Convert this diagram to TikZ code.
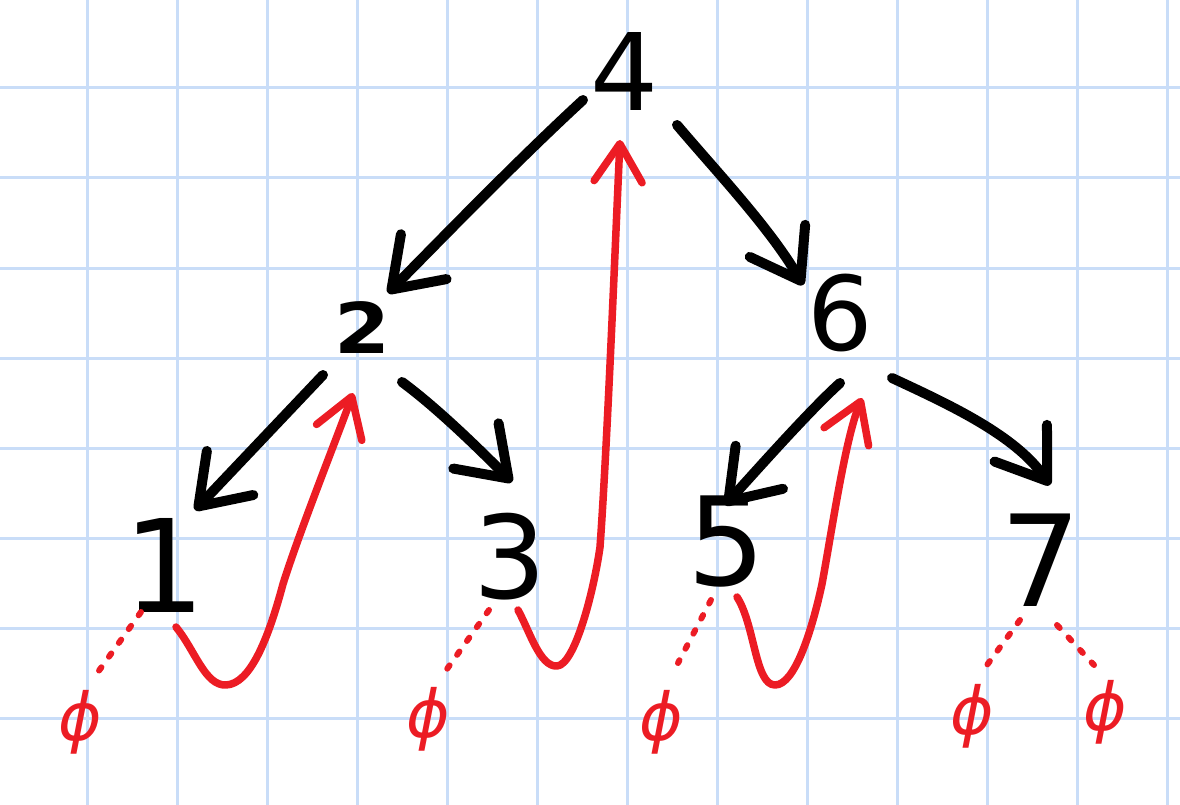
\documentclass[tikz,border=0pt]{standalone}
\usepackage{fontspec}
\setmainfont{DejaVu Sans}
\usetikzlibrary{arrows.meta}
\definecolor{gridblue}{RGB}{201,221,248}
\definecolor{inkred}{RGB}{236,28,36}
\tikzset{
  gridline/.style={draw=gridblue, line width=3pt},
  digit/.style={inner sep=0pt, text=black},
  phinode/.style={inner sep=0pt, text=inkred, font=\itshape\fontsize{66}{66}\selectfont},
  blk/.style={draw=black, line width=10pt, line cap=round, line join=round,
    -{Straight Barb[length=46pt,width=64pt,round]}},
  redarr/.style={draw=inkred, line width=7.5pt, line cap=round, line join=round,
    -{Straight Barb[length=38pt,width=48pt,round]}},
  nilline/.style={draw=inkred, line width=6pt, line cap=round, dash pattern=on 4pt off 13pt}
}
\begin{document}
\begin{tikzpicture}[x=1pt,y=-1pt]
\useasboundingbox (0,0) rectangle (1180,805);
\fill[white] (0,0) rectangle (1180,805);
\foreach \x in {87,177,...,1167} \draw[gridline] (\x,0) -- (\x,805);
\foreach \y in {88,178,...,718} \draw[gridline] (0,\y) -- (1180,\y);

% nodes
\node[digit, font=\fontsize{107}{107}\selectfont] (n4) at (625,72) {4};
\node[digit, font=\bfseries\fontsize{70}{70}\selectfont, xscale=1.15, transform shape] (n2) at (363,328) {2};
\node[digit, font=\fontsize{103}{103}\selectfont] (n6) at (840,313) {6};
\node[digit, font=\fontsize{129}{129}\selectfont] (n1) at (165,565) {1};
\node[digit, font=\fontsize{115}{115}\selectfont] (n3) at (510,557) {3};
\node[digit, font=\fontsize{123}{123}\selectfont] (n5) at (727,542) {5};
\node[digit, font=\fontsize{127}{127}\selectfont] (n7) at (1041,560) {7};

\node[phinode] (p1) at (80,722) {ϕ};
\node[phinode] (p2) at (428,719) {ϕ};
\node[phinode] (p3) at (661,722) {ϕ};
\node[phinode] (p4) at (972,716) {ϕ};
\node[phinode] (p5) at (1105,712) {ϕ};

% black tree edges
\draw[blk] ([shift={(-42,28)}]n4.center) .. controls (520,158) and (448,232) .. ([shift={(25,-35)}]n2.center);
\draw[blk] ([shift={(52,53)}]n4.center) .. controls (715,170) and (770,228) .. ([shift={(-37,-28)}]n6.center);
\draw[blk] ([shift={(-40,47)}]n2.center) -- ([shift={(30,-55)}]n1.center);
\draw[blk] ([shift={(39,54)}]n2.center) .. controls (440,410) and (485,455) .. ([shift={(2,-75)}]n3.center);
\draw[blk] ([shift={(0,70)}]n6.center) .. controls (810,410) and (755,472) .. ([shift={(-2,-37)}]n5.center);
\draw[blk] ([shift={(52,65)}]n6.center) .. controls (950,405) and (1015,435) .. ([shift={(9,-75)}]n7.center);

% red return paths
\draw[redarr] ([shift={(11,62)}]n1.center) .. controls (195,650) and (205,686) .. (226,685)
  .. controls (250,684) and (268,640) .. (283,584)
  .. controls (300,530) and (340,430) .. ([shift={(-10,65)}]n2.center);
\draw[redarr] ([shift={(8,53)}]n3.center) .. controls (530,632) and (540,667) .. (557,666)
  .. controls (575,665) and (594,590) .. (600,547)
  .. controls (607,450) and (615,250) .. ([shift={(-5,68)}]n4.center);
\draw[redarr] ([shift={(10,55)}]n5.center) .. controls (755,625) and (755,685) .. (775,685)
  .. controls (795,685) and (812,630) .. (822,584)
  .. controls (832,530) and (845,440) .. ([shift={(22,85)}]n6.center);

% dotted nil links
\draw[nilline] ([shift={(-24,47)}]n1.center) -- ([shift={(13,-43)}]p1.center);
\draw[nilline] ([shift={(-21,53)}]n3.center) -- ([shift={(19,-50)}]p2.center);
\draw[nilline] ([shift={(-16,58)}]n5.center) -- ([shift={(17,-59)}]p3.center);
\draw[nilline] ([shift={(-21,60)}]n7.center) -- ([shift={(15,-51)}]p4.center);
\draw[nilline] ([shift={(16,65)}]n7.center) -- ([shift={(-11,-47)}]p5.center);
\end{tikzpicture}
\end{document}
